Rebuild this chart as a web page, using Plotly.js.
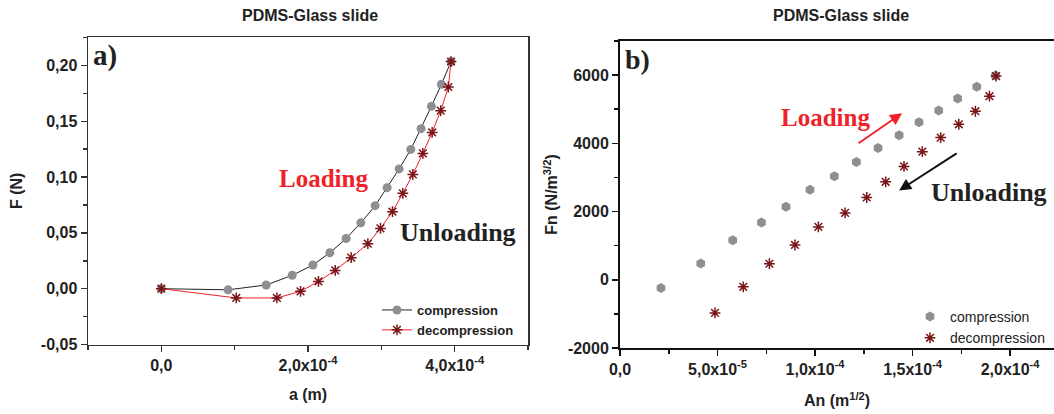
<!DOCTYPE html>
<html>
<head>
<meta charset="utf-8">
<script src="https://cdn.plot.ly/plotly-3.0.1.min.js"></script>
<style>html,body{margin:0;padding:0;background:#fff;}#chart{width:1054px;height:414px;}</style>
</head>
<body>
<div id="chart"></div>
<script>
// ---- Panel a) data : F (N) vs a (m)
const aCompression = [0, 0.91e-4, 1.43e-4, 1.785e-4, 2.067e-4, 2.298e-4, 2.52e-4, 2.72e-4, 2.916e-4, 3.079e-4, 3.243e-4, 3.402e-4, 3.542e-4, 3.683e-4, 3.819e-4, 3.951e-4];
const FCompression = [0, -0.001, 0.0033, 0.012, 0.0212, 0.0322, 0.045, 0.059, 0.0744, 0.0905, 0.1073, 0.1248, 0.1434, 0.1634, 0.1831, 0.2035];
const aDecompression = [0, 1.022e-4, 1.576e-4, 1.898e-4, 2.143e-4, 2.371e-4, 2.589e-4, 2.816e-4, 2.988e-4, 3.152e-4, 3.293e-4, 3.43e-4, 3.566e-4, 3.693e-4, 3.81e-4, 3.914e-4, 3.951e-4];
const FDecompression = [0, -0.0083, -0.0083, -0.0024, 0.0065, 0.0164, 0.0278, 0.0403, 0.054, 0.069, 0.0854, 0.1024, 0.1212, 0.14, 0.1595, 0.1807, 0.2035];

// ---- Panel b) data : Fn (N/m^3/2) vs An (m^1/2)
const AnCompression = [2.1e-5, 4.14e-5, 5.78e-5, 7.25e-5, 8.51e-5, 9.74e-5, 1.099e-4, 1.212e-4, 1.323e-4, 1.431e-4, 1.533e-4, 1.634e-4, 1.731e-4, 1.829e-4, 1.925e-4];
const FnCompression = [-244, 480, 1156, 1676, 2138, 2638, 3038, 3450, 3862, 4235, 4618, 4962, 5315, 5656, 5991];
const AnDecompression = [4.87e-5, 6.32e-5, 7.66e-5, 8.97e-5, 1.017e-4, 1.154e-4, 1.265e-4, 1.362e-4, 1.456e-4, 1.55e-4, 1.644e-4, 1.737e-4, 1.822e-4, 1.894e-4, 1.928e-4];
const FnDecompression = [-971, -206, 470, 1020, 1550, 1961, 2412, 2873, 3324, 3756, 4168, 4559, 4941, 5382, 5971];

// ---- Tick labels
const aTickVals = [0, 2e-4, 4e-4];
const aTickText = ["0,0", "2,0x10<sup>-4</sup>", "4,0x10<sup>-4</sup>"];
const FTickVals = [-0.05, 0, 0.05, 0.10, 0.15, 0.20];
const FTickText = ["-0,05", "0,00", "0,05", "0,10", "0,15", "0,20"];
const AnTickVals = [0, 5e-5, 1e-4, 1.5e-4, 2e-4];
const AnTickText = ["0,0", "5,0x10<sup>-5</sup>", "1,0x10<sup>-4</sup>", "1,5x10<sup>-4</sup>", "2,0x10<sup>-4</sup>"];
const FnTickVals = [-2000, 0, 2000, 4000, 6000];
const FnTickText = ["-2000", "0", "2000", "4000", "6000"];

const seriesNames = ["compression", "decompression"];
const panelTitle = "PDMS-Glass slide";

const GREY = '#8f8f93';
const MAROON = '#7a1418';
const RED = '#ee2229';
const TXT = '#222222';
const sans = 'Liberation Sans, Arial, sans-serif';
const serif = 'Liberation Serif, Times New Roman, serif';

const traces = [
  {x: aCompression, y: FCompression, xaxis: 'x', yaxis: 'y', name: seriesNames[0], mode: 'lines+markers',
   line: {color: '#222', width: 1}, marker: {symbol: 'circle', size: 9, color: GREY}, legend: 'legend'},
  {x: aDecompression, y: FDecompression, xaxis: 'x', yaxis: 'y', name: seriesNames[1], mode: 'lines+markers',
   line: {color: RED, width: 1}, marker: {symbol: 'asterisk-open', size: 9, color: MAROON, line: {color: MAROON, width: 1.5}}, legend: 'legend'},
  {x: AnCompression, y: FnCompression, xaxis: 'x2', yaxis: 'y2', name: seriesNames[0], mode: 'markers',
   marker: {symbol: 'hexagon', size: 10, color: GREY}, legend: 'legend2'},
  {x: AnDecompression, y: FnDecompression, xaxis: 'x2', yaxis: 'y2', name: seriesNames[1], mode: 'markers',
   marker: {symbol: 'asterisk-open', size: 9, color: MAROON, line: {color: MAROON, width: 1.5}}, legend: 'legend2'}
];

const tickFont = {family: sans, size: 16, color: TXT, weight: 'bold'};
const titleFont = {family: sans, size: 16, color: TXT, weight: 'bold'};

function ax(extra) {
  return Object.assign({
    showgrid: false, zeroline: false, showline: true, mirror: true,
    ticks: 'outside', ticklen: 6, tickwidth: 1.5, tickmode: 'array',
    tickfont: tickFont, automargin: false
  }, extra);
}
// mirrored axes carrying the inward ticks on the top and right sides
function mirrorAx(extra) {
  return Object.assign({
    showgrid: false, zeroline: false, showline: false, showticklabels: false,
    ticks: 'inside', ticklen: 6, tickwidth: 1.5, tickmode: 'array', automargin: false
  }, extra);
}

const W = 1054, H = 414;
const px = v => v / W, py = v => 1 - v / H;

const xRangeA = [-1e-4, 5e-4], yRangeA = [-0.05, 0.2255];
const xRangeB = [0, 2.225e-4], yRangeB = [-2000, 7000];

const layout = {
  width: W, height: H,
  margin: {l: 0, r: 0, t: 0, b: 0},
  paper_bgcolor: '#fff', plot_bgcolor: 'rgba(0,0,0,0)',
  showlegend: true,
  xaxis: ax({domain: [px(88), px(528)], range: xRangeA, anchor: 'y',
    tickvals: aTickVals, ticktext: aTickText, linecolor: '#333', linewidth: 1.5, tickcolor: '#333',
    minor: {tickmode: 'linear', tick0: 0, dtick: 1e-4, ticklen: 4, tickcolor: '#333', ticks: 'outside'},
    title: {text: 'a (m)', font: titleFont, standoff: 15}}),
  yaxis: ax({domain: [py(344.5), py(37)], range: yRangeA, anchor: 'x',
    tickvals: FTickVals, ticktext: FTickText, linecolor: '#333', linewidth: 1.5, tickcolor: '#333',
    minor: {tickmode: 'linear', tick0: 0, dtick: 0.025, ticklen: 4, tickcolor: '#333', ticks: 'outside'},
    title: {text: 'F (N)', font: titleFont, standoff: 14}}),
  xaxis3: mirrorAx({overlaying: 'x', side: 'top', anchor: 'y', range: xRangeA,
    tickvals: aTickVals, tickcolor: '#333',
    minor: {tickmode: 'linear', tick0: 0, dtick: 1e-4, ticklen: 4, tickcolor: '#333', ticks: 'inside'}}),
  yaxis3: mirrorAx({overlaying: 'y', side: 'right', anchor: 'x', range: yRangeA,
    tickvals: FTickVals, tickcolor: '#333',
    minor: {tickmode: 'linear', tick0: 0, dtick: 0.025, ticklen: 4, tickcolor: '#333', ticks: 'inside'}}),
  xaxis2: ax({domain: [px(620), 1], range: xRangeB, anchor: 'y2',
    tickvals: AnTickVals, ticktext: AnTickText, linecolor: '#111', linewidth: 2, tickcolor: '#111',
    minor: {tickmode: 'linear', tick0: 0, dtick: 2.5e-5, ticklen: 4, tickcolor: '#111', ticks: 'outside'},
    title: {text: 'An (m<sup>1/2</sup>)', font: titleFont, standoff: 18}}),
  yaxis2: ax({domain: [py(348), py(41)], range: yRangeB, anchor: 'x2',
    tickvals: FnTickVals, ticktext: FnTickText, linecolor: '#111', linewidth: 2, tickcolor: '#111',
    minor: {tickmode: 'linear', tick0: 0, dtick: 1000, ticklen: 4, tickcolor: '#111', ticks: 'outside'},
    title: {text: 'Fn (N/m<sup>3/2</sup>)', font: titleFont, standoff: 6}}),
  xaxis4: mirrorAx({overlaying: 'x2', side: 'top', anchor: 'y2', range: xRangeB,
    tickvals: AnTickVals, tickcolor: '#111',
    minor: {tickmode: 'linear', tick0: 0, dtick: 2.5e-5, ticklen: 4, tickcolor: '#111', ticks: 'inside'}}),
  yaxis4: mirrorAx({overlaying: 'y2', side: 'right', anchor: 'x2', range: yRangeB,
    tickvals: FnTickVals, tickcolor: '#111',
    minor: {tickmode: 'linear', tick0: 0, dtick: 1000, ticklen: 4, tickcolor: '#111', ticks: 'inside'}}),
  legend: {x: px(377), y: py(295), xanchor: 'left', yanchor: 'top', bgcolor: 'rgba(0,0,0,0)',
    font: {family: sans, size: 13, color: TXT, weight: 'bold'}, tracegroupgap: 0},
  legend2: {x: px(910), y: py(301), xanchor: 'left', yanchor: 'top', bgcolor: 'rgba(0,0,0,0)',
    font: {family: sans, size: 14, color: TXT}, tracegroupgap: 0},
  annotations: [
    {text: panelTitle, xref: 'paper', yref: 'paper', x: px(310), y: py(15), xanchor: 'center', yanchor: 'middle', showarrow: false,
     font: {family: sans, size: 16, color: TXT, weight: 'bold'}},
    {text: panelTitle, xref: 'paper', yref: 'paper', x: px(841), y: py(15), xanchor: 'center', yanchor: 'middle', showarrow: false,
     font: {family: sans, size: 16, color: TXT, weight: 'bold'}},
    {text: 'a)', xref: 'paper', yref: 'paper', x: px(105), y: py(55), xanchor: 'center', yanchor: 'middle', showarrow: false,
     font: {family: serif, size: 29, color: TXT, weight: 'bold'}},
    {text: 'b)', xref: 'paper', yref: 'paper', x: px(637), y: py(60), xanchor: 'center', yanchor: 'middle', showarrow: false,
     font: {family: serif, size: 28, color: TXT, weight: 'bold'}},
    {text: 'Loading', xref: 'x', yref: 'y', x: 2.207e-4, y: 0.0986, showarrow: false,
     font: {family: serif, size: 25, color: RED, weight: 'bold'}},
    {text: 'Unloading', xref: 'x', yref: 'y', x: 4.05e-4, y: 0.0502, showarrow: false,
     font: {family: serif, size: 26, color: TXT, weight: 'bold'}},
    {text: 'Loading', xref: 'x2', yref: 'y2', x: 1.051e-4, y: 4765, showarrow: false,
     font: {family: serif, size: 25, color: RED, weight: 'bold'}},
    {text: 'Unloading', xref: 'x2', yref: 'y2', x: 1.892e-4, y: 2559, showarrow: false,
     font: {family: serif, size: 26, color: TXT, weight: 'bold'}},
    {text: '', xref: 'x2', yref: 'y2', x: 1.446e-4, y: 4882, ax: -45, ay: 31, showarrow: true,
     arrowhead: 2, arrowsize: 1.2, arrowwidth: 2, arrowcolor: RED},
    {text: '', xref: 'x2', yref: 'y2', x: 1.431e-4, y: 2618, ax: 59, ay: -38, showarrow: true,
     arrowhead: 2, arrowsize: 1.2, arrowwidth: 2, arrowcolor: '#111'}
  ]
};

Plotly.newPlot('chart', traces, layout, {displayModeBar: false, staticPlot: true});
</script>
</body>
</html>
